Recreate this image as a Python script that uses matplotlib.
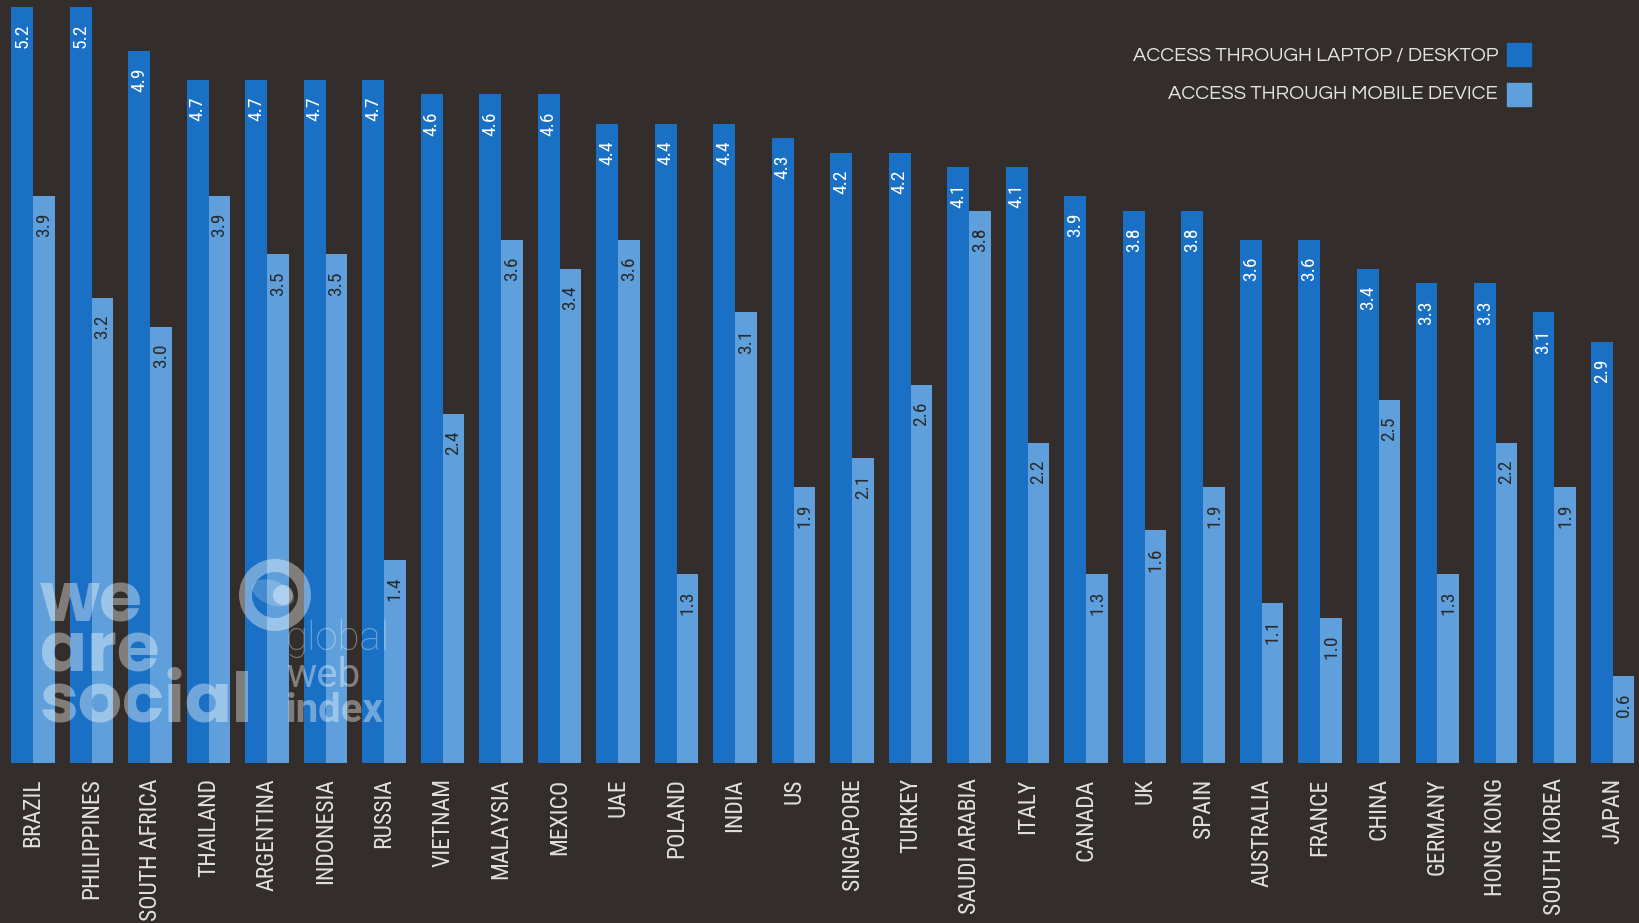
import numpy as np
import matplotlib
matplotlib.use("Agg")
import matplotlib.pyplot as plt
from matplotlib.patches import Rectangle, Circle, Wedge, Ellipse

countries = ["BRAZIL", "PHILIPPINES", "SOUTH AFRICA", "THAILAND", "ARGENTINA", "INDONESIA",
             "RUSSIA", "VIETNAM", "MALAYSIA", "MEXICO", "UAE", "POLAND", "INDIA", "US",
             "SINGAPORE", "TURKEY", "SAUDI ARABIA", "ITALY", "CANADA", "UK", "SPAIN",
             "AUSTRALIA", "FRANCE", "CHINA", "GERMANY", "HONG KONG", "SOUTH KOREA", "JAPAN"]
desktop = [5.2, 5.2, 4.9, 4.7, 4.7, 4.7, 4.7, 4.6, 4.6, 4.6, 4.4, 4.4, 4.4, 4.3,
           4.2, 4.2, 4.1, 4.1, 3.9, 3.8, 3.8, 3.6, 3.6, 3.4, 3.3, 3.3, 3.1, 2.9]
mobile = [3.9, 3.2, 3.0, 3.9, 3.5, 3.5, 1.4, 2.4, 3.6, 3.4, 3.6, 1.3, 3.1, 1.9,
          2.1, 2.6, 3.8, 2.2, 1.3, 1.6, 1.9, 1.1, 1.0, 2.5, 1.3, 2.2, 1.9, 0.6]
legend_labels = ["ACCESS THROUGH LAPTOP / DESKTOP", "ACCESS THROUGH MOBILE DEVICE"]

BG = "#332e2b"
DARK = "#1a70c4"
LIGHT = "#5fa0dc"
COND = ["Roboto Condensed", "DejaVu Sans"]

fig = plt.figure(figsize=(16.39, 9.23), dpi=100, facecolor=BG)
ax = fig.add_axes([0, 0.1733, 1, 0.8267])
ax.set_facecolor(BG)

x = np.arange(len(countries))
w = 0.37
ax.bar(x - w / 2, desktop, w, color=DARK, zorder=2)
ax.bar(x + w / 2, mobile, w, color=LIGHT, zorder=2)

# value labels, rotated, hanging from the top of each bar
for xi, d, m in zip(x, desktop, mobile):
    ax.annotate(f"{d:.1f}", (xi - w / 2, d), xytext=(0, -12), textcoords="offset points",
                rotation=90, ha="center", va="top", color="white", fontsize=14,
                family=COND, zorder=4)
    ax.annotate(f"{m:.1f}", (xi + w / 2, m), xytext=(0, -12), textcoords="offset points",
                rotation=90, ha="center", va="top", color="#2a2a2a", fontsize=14,
                family=COND, zorder=4)

ax.set_xlim(-0.564, 27.45)
ax.set_ylim(0, 5.25)
ax.set_yticks([])
ax.set_xticks(x)
ax.set_xticklabels(countries, rotation=90, ha="center", va="top", color="#e2e0de",
                   fontsize=17, family=COND)
ax.tick_params(axis="x", length=0, pad=11)
for s in ax.spines.values():
    s.set_visible(False)

# legend, drawn by hand in the top right corner
for lab, col, ytxt, ybox in [(legend_labels[0], DARK, 56, 43), (legend_labels[1], LIGHT, 94, 83)]:
    fig.text(1498 / 1639, 1 - ytxt / 923, lab, ha="right", va="center", color="#e6e3e0",
             fontsize=14.5, family=["Questrial", "DejaVu Sans"])
    fig.patches.append(Rectangle((1507 / 1639, 1 - (ybox + 23) / 923), 24 / 1639, 23 / 923,
                                 transform=fig.transFigure, color=col, zorder=5))

# watermarks
wm = dict(color="white", alpha=0.38, zorder=6, ha="left", va="baseline")
for word, ybase in [("we", 622), ("are", 672), ("social", 722)]:
    fig.text(40 / 1639, 1 - ybase / 923, word, fontsize=50, fontweight="bold",
             family=["Poppins", "DejaVu Sans"], **wm)
gwi = ["Roboto", "DejaVu Sans"]
fig.text(286 / 1639, 1 - 650 / 923, "global", fontsize=29, fontweight="light", family=gwi, **wm)
fig.text(286 / 1639, 1 - 687 / 923, "web", fontsize=29, fontweight="normal", family=gwi, **wm)
fig.text(286 / 1639, 1 - 722 / 923, "index", fontsize=29, fontweight="bold", family=gwi, **wm)

cx, cy, r = 2.75, (923 - 595) / 100, 0.36
tr = fig.dpi_scale_trans
fig.patches.append(Wedge((cx, cy), r, 0, 360, width=0.13, transform=tr,
                         facecolor="white", alpha=0.38, edgecolor="none", zorder=6))
fig.patches.append(Ellipse((cx - 0.02, cy + 0.02), 0.44, 0.24, angle=-20, transform=tr,
                           facecolor="white", alpha=0.2, edgecolor="none", zorder=6))
fig.patches.append(Circle((cx + 0.08, cy), 0.1, transform=tr,
                          facecolor="white", alpha=0.38, edgecolor="none", zorder=6))

fig.savefig("out.png", dpi=100, facecolor=BG)
